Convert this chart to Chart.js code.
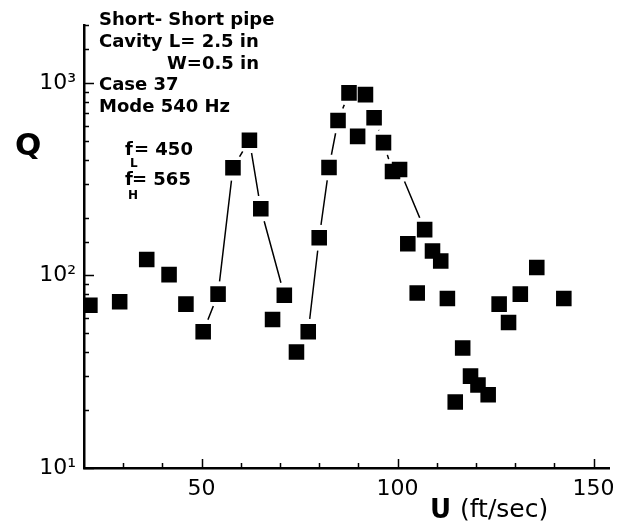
<!DOCTYPE html>
<html>
<head>
<meta charset="utf-8">
<script src="https://cdn.jsdelivr.net/npm/chart.js@4.4.0/dist/chart.umd.min.js"></script>
<style>
  html, body { margin: 0; padding: 0; background: white; }
  #caja { width: 623px; height: 531px; }
</style>
</head>
<body>
<div id="caja"><canvas id="grafico"></canvas></div>
<script>
// datos (U en ft/sec, Q)
var uPuntos = [21.5, 29.1, 36, 41.7, 46, 50.4, 54.2, 58, 62.2, 65.1, 68.1, 71.1, 74.2, 77.2,
  80, 82.5, 84.8, 87.6, 89.8, 91.8, 94, 96.4, 98.7, 100.5, 102.6, 105, 106.9, 108.9, 111,
  112.7, 114.7, 116.6, 118.6, 120.5, 123.1, 125.9, 128.3, 131.3, 135.5, 142.4];
var qPuntos = [70, 73, 121, 101, 71, 51, 80, 363, 504, 222, 59, 79, 40, 51,
  157, 364, 638, 888, 528, 870, 659, 490, 347, 355, 146, 81, 173, 134, 119,
  76, 22, 42, 30, 27, 24, 71, 57, 80, 110, 76];

// las dos curvas que unen algunos puntos (null = corte)
var uCurva = [50.4, 54.2, 58, 62.2, 65.1, 71.1, null, 77.2, 80, 82.5, 84.8, 87.6, 91.8, 94, 96.4, 98.7, 100.5, 106.9];
var qCurva = [51, 80, 363, 504, 222, 79, null, 51, 157, 364, 638, 888, 870, 659, 490, 347, 355, 173];

var ticksX = [50, 100, 150];
var potenciasY = [10, 100, 1000];
var etiquetasY = ['10\u00B9', '10\u00B2', '10\u00B3'];

var textos = ['Short- Short pipe', 'Cavity L= 2.5 in', 'W=0.5 in', 'Case 37', 'Mode 540 Hz'];

var puntos = uPuntos.map(function (u, i) { return { x: u, y: qPuntos[i] }; });
var curva = uCurva.map(function (u, i) { return u === null ? { x: null, y: null } : { x: u, y: qCurva[i] }; });

// ticks hacia dentro + textos
var decorado = {
  id: 'decorado',
  afterDraw: function (chart) {
    var ctx = chart.ctx;
    var xs = chart.scales.x;
    var ys = chart.scales.y;
    var area = chart.chartArea;
    ctx.save();
    ctx.strokeStyle = 'black';
    ctx.lineWidth = 1.5;
    ctx.beginPath();
    ys.ticks.forEach(function (t) {
      var p = Math.pow(10, Math.floor(Math.log10(t.value) + 1e-9));
      var largo = Math.abs(t.value / p - 1) < 1e-6 ? 10 : 5;
      var y = Math.round(ys.getPixelForValue(t.value)) + 0.5;
      ctx.moveTo(area.left, y);
      ctx.lineTo(area.left + largo, y);
    });
    for (var v = 30; v <= 150; v += 10) {
      var largoX = ticksX.indexOf(v) >= 0 ? 9 : 5;
      var x = Math.round(xs.getPixelForValue(v)) + 0.5;
      ctx.moveTo(x, area.bottom);
      ctx.lineTo(x, area.bottom - largoX);
    }
    ctx.stroke();

    ctx.fillStyle = 'black';
    ctx.textBaseline = 'alphabetic';
    ctx.textAlign = 'left';
    ctx.font = 'bold 18px "DejaVu Sans"';
    ctx.fillText(textos[0], 99, 25);
    ctx.fillText(textos[1], 99, 47);
    ctx.fillText(textos[2], 167, 69);
    ctx.fillText(textos[3], 99, 90);
    ctx.fillText(textos[4], 99, 112);

    ctx.fillText('f', 125, 155);
    ctx.fillText('= 450', 134, 155);
    ctx.fillText('f', 125, 185);
    ctx.fillText('= 565', 132, 185);
    ctx.font = 'bold 12px "DejaVu Sans"';
    ctx.fillText('L', 130, 167);
    ctx.fillText('H', 128, 199);

    ctx.font = 'bold 31px "DejaVu Sans"';
    ctx.fillText('Q', 15, 155);
    ctx.font = 'bold 26px "DejaVu Sans"';
    ctx.fillText('U', 430, 518);
    ctx.font = '25px "DejaVu Sans"';
    ctx.fillText('(ft/sec)', 460, 517);
    ctx.restore();
  }
};

new Chart(document.getElementById('grafico'), {
  type: 'scatter',
  data: {
    datasets: [
      {
        data: puntos,
        pointStyle: 'rect',
        pointRadius: 11,
        pointHoverRadius: 11,
        pointBackgroundColor: 'black',
        pointBorderWidth: 0,
        clip: 0,
        order: 0
      },
      {
        data: curva,
        showLine: true,
        spanGaps: false,
        borderColor: 'black',
        borderWidth: 1.5,
        pointRadius: 13,
        pointHoverRadius: 13,
        pointBackgroundColor: 'white',
        pointBorderWidth: 0,
        order: 1
      }
    ]
  },
  options: {
    responsive: true,
    maintainAspectRatio: false,
    animation: false,
    events: [],
    layout: { padding: { top: 25, right: 8, left: 0, bottom: 0 } },
    plugins: { legend: { display: false }, tooltip: { enabled: false } },
    scales: {
      x: {
        type: 'linear',
        min: 20,
        max: 154,
        afterFit: function (s) { s.height = 63; },
        grid: { display: false, drawTicks: false },
        border: { display: true, color: 'black', width: 2.5 },
        ticks: {
          stepSize: 10,
          includeBounds: false,
          autoSkip: false,
          maxRotation: 0,
          padding: 8,
          color: 'black',
          font: { family: 'DejaVu Sans', size: 22 },
          callback: function (v) { return ticksX.indexOf(v) >= 0 ? String(v) : ''; }
        }
      },
      y: {
        type: 'logarithmic',
        min: 10,
        max: 2000,
        afterFit: function (s) { s.width = 84; },
        grid: { display: false, drawTicks: false },
        border: { display: true, color: 'black', width: 2.5 },
        ticks: {
          autoSkip: false,
          padding: 8,
          color: 'black',
          font: { family: 'DejaVu Sans', size: 22 },
          callback: function (v) {
            var i = potenciasY.indexOf(v);
            return i >= 0 ? etiquetasY[i] : '';
          }
        }
      }
    }
  },
  plugins: [decorado]
});
</script>
</body>
</html>
